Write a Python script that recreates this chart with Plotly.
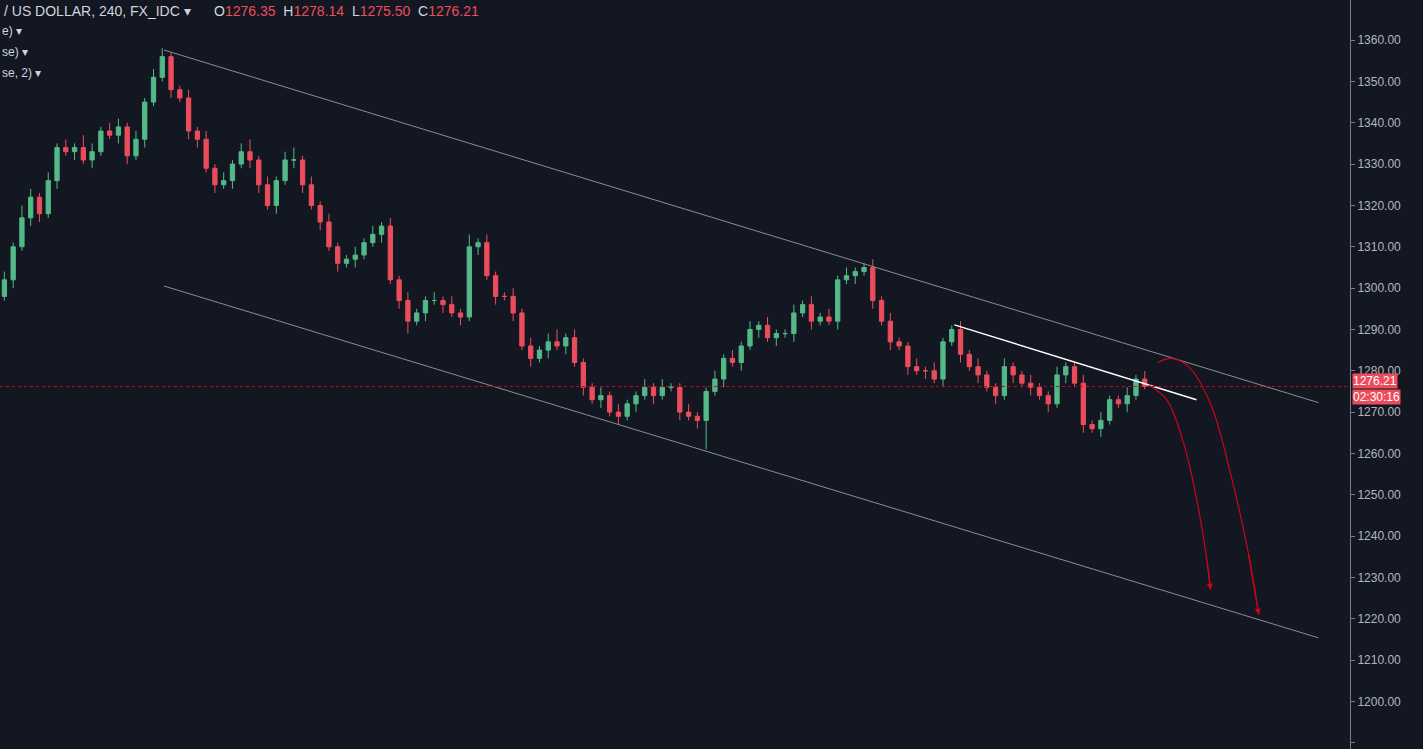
import plotly.graph_objects as go

# 4h candles (index = bar number)
closes = [1302, 1310, 1317, 1322, 1318, 1326, 1334, 1333, 1334, 1331,
          1333, 1338, 1337, 1339, 1332, 1336, 1345, 1351, 1356, 1348,
          1346, 1338, 1336, 1329, 1325, 1326, 1330, 1333, 1331, 1325,
          1320, 1326, 1331, 1331, 1325, 1320, 1316, 1310, 1306, 1307,
          1308, 1311, 1313, 1315, 1302, 1297, 1292, 1294, 1297, 1297,
          1296, 1294, 1293, 1310, 1311, 1303, 1298, 1298, 1294, 1286,
          1283, 1285, 1287, 1286, 1288, 1282, 1276, 1273, 1274, 1270,
          1269, 1272, 1274, 1276, 1274, 1276, 1276, 1270, 1269, 1268,
          1275, 1278, 1283, 1282, 1286, 1290, 1291, 1288, 1289, 1289,
          1294, 1296, 1292, 1293, 1292, 1302, 1303, 1304, 1305, 1297,
          1292, 1287, 1286, 1281, 1280, 1280, 1278, 1287, 1290, 1284,
          1281, 1279, 1276, 1274, 1281, 1279, 1277, 1276, 1274, 1272,
          1279, 1281, 1277, 1267, 1266, 1268, 1273, 1272, 1274, 1278, 1276.21]
first_open = 1298
up_wick = [2, 1, 3, 2, 1, 2, 1, 2, 1, 3, 2, 1, 2, 2, 1, 2, 1, 2, 2, 1,
           1, 2, 1, 2, 1, 2, 1, 2, 3, 1, 2, 1, 2, 3, 1, 2, 1, 2, 1, 1,
           2, 1, 2, 1, 2, 1, 2, 1, 1, 2, 1, 2, 1, 3, 1, 2, 1, 1, 2, 1,
           2, 1, 2, 3, 1, 2, 1, 1, 2, 1, 2, 1, 1, 2, 1, 2, 1, 1, 2, 1,
           1, 2, 1, 2, 1, 2, 1, 2, 1, 1, 2, 1, 2, 1, 2, 1, 2, 1, 1, 2,
           1, 2, 1, 1, 2, 1, 2, 1, 1, 2, 1, 2, 1, 1, 2, 1, 1, 2, 1, 1,
           2, 1, 1, 2, 1, 2, 1, 1, 2, 1, 1.93]
dn_wick = [1, 2, 1, 2, 2, 1, 2, 1, 2, 1, 2, 1, 1, 2, 2, 1, 2, 1, 1, 2,
           1, 2, 2, 1, 2, 1, 2, 1, 2, 2, 1, 2, 1, 2, 2, 1, 2, 1, 2, 1,
           2, 1, 1, 2, 1, 2, 3, 1, 2, 1, 2, 1, 2, 1, 2, 1, 2, 1, 2, 1,
           2, 1, 2, 1, 2, 1, 2, 1, 2, 1, 2, 1, 2, 1, 2, 1, 1, 2, 1, 2,
           7, 1, 2, 1, 2, 1, 2, 1, 2, 1, 2, 1, 2, 1, 1, 2, 1, 2, 1, 2,
           1, 2, 1, 2, 1, 2, 1, 2, 1, 2, 1, 2, 1, 2, 1, 2, 1, 2, 1, 2,
           1, 2, 1, 2, 1, 2, 1, 1, 2, 1, 0.71]

# drawings: (bar, price) endpoints
upper_channel = [(18.2, 1357.6), (149.8, 1272.3)]
lower_channel = [(18.2, 1300.5), (149.8, 1215.4)]
trend_line = [(108.3, 1291.1), (135.9, 1273.0)]
arrow_a = [(130.5, 1276.5), (132.5, 1273), (134.5, 1262), (136.0, 1248), (137.1, 1234), (137.5, 1227)]
arrow_b = [(131.5, 1282), (133.0, 1283), (135.0, 1281), (137.5, 1272), (139.8, 1255), (141.8, 1236), (143.0, 1221)]
last_price = 1276.21

opens = [first_open] + closes[:-1]
highs = [max(o, c) + w for o, c, w in zip(opens, closes, up_wick)]
lows = [min(o, c) - w for o, c, w in zip(opens, closes, dn_wick)]
bars = list(range(len(closes)))

BG = "#131722"
GREEN = "#53b987"
RED = "#eb4d5c"

fig = go.Figure()
fig.add_trace(go.Candlestick(
    x=bars, open=opens, high=highs, low=lows, close=closes,
    increasing=dict(line=dict(color=GREEN, width=1), fillcolor=GREEN),
    decreasing=dict(line=dict(color=RED, width=1), fillcolor=RED),
    whiskerwidth=0, showlegend=False, hoverinfo="skip"))

for pts, col, w in [(upper_channel, "#8a8d96", 1), (lower_channel, "#8a8d96", 1),
                    (trend_line, "#ffffff", 1.5)]:
    fig.add_trace(go.Scatter(x=[p[0] for p in pts], y=[p[1] for p in pts], mode="lines",
                             line=dict(color=col, width=w), showlegend=False, hoverinfo="skip"))

for pts in (arrow_a, arrow_b):
    fig.add_trace(go.Scatter(x=[p[0] for p in pts], y=[p[1] for p in pts], mode="lines",
                             line=dict(color="#d0021b", width=1.2, shape="spline"),
                             showlegend=False, hoverinfo="skip"))
    fig.add_annotation(x=pts[-1][0], y=pts[-1][1], ax=pts[-2][0], ay=pts[-2][1],
                       xref="x", yref="y", axref="x", ayref="y", text="",
                       showarrow=True, arrowhead=2, arrowsize=1, arrowwidth=1.2,
                       arrowcolor="#d0021b")

fig.add_hline(y=last_price, line=dict(color="#d0021b", width=1, dash="dot"))

fig.add_annotation(x=1, y=last_price, xref="paper", yref="y", xanchor="left", yanchor="bottom",
                   text=f"{last_price:.2f}", showarrow=False, bgcolor=RED, xshift=2, yshift=-3,
                   borderpad=0, font=dict(color="white", size=12, family="Arial"))
fig.add_annotation(x=1, y=last_price, xref="paper", yref="y", xanchor="left", yanchor="top",
                   text="02:30:16", showarrow=False, bgcolor=RED, xshift=2, yshift=-3,
                   borderpad=0, font=dict(color="white", size=12, family="Arial"))

fig.add_annotation(x=0, y=1, xref="paper", yref="paper", xanchor="left", yanchor="top",
                   showarrow=False, xshift=2, yshift=-1,
                   text="<span style='color:#d1d4dc'>/ US DOLLAR, 240, FX_IDC ▾</span>"
                        "      <span style='color:#d1d4dc'>O</span><span style='color:#eb4d5c'>1276.35</span>"
                        "  <span style='color:#d1d4dc'>H</span><span style='color:#eb4d5c'>1278.14</span>"
                        "  <span style='color:#d1d4dc'>L</span><span style='color:#eb4d5c'>1275.50</span>"
                        "  <span style='color:#d1d4dc'>C</span><span style='color:#eb4d5c'>1276.21</span>",
                   font=dict(size=14, family="Arial"))
for i, t in enumerate(["e) ▾", "se) ▾", "se, 2) ▾"]):
    fig.add_annotation(x=0, y=1, xref="paper", yref="paper", xanchor="left", yanchor="top",
                       showarrow=False, yshift=-22 - 21 * i, text=t,
                       font=dict(size=12, family="Arial", color="#d1d4dc"))

fig.update_layout(
    width=1423, height=749,
    paper_bgcolor=BG, plot_bgcolor=BG,
    margin=dict(l=0, r=73, t=0, b=0),
    xaxis=dict(range=[-0.5, 153.4], showgrid=False, zeroline=False, showticklabels=False,
               rangeslider=dict(visible=False)),
    yaxis=dict(range=[1188.5, 1369.7], side="right", showgrid=False, zeroline=False,
               tickvals=list(range(1190, 1371, 10)), tickformat=".2f",
               ticks="outside", ticklen=4, tickcolor="#787b86",
               showline=True, linecolor="#787b86", linewidth=1,
               tickfont=dict(color="#b2b5be", size=12, family="Arial")),
)

fig.write_html("out.html", config={"displayModeBar": False},
               post_script="document.body.style.margin='0';"
               "document.body.style.background='#131722';")
